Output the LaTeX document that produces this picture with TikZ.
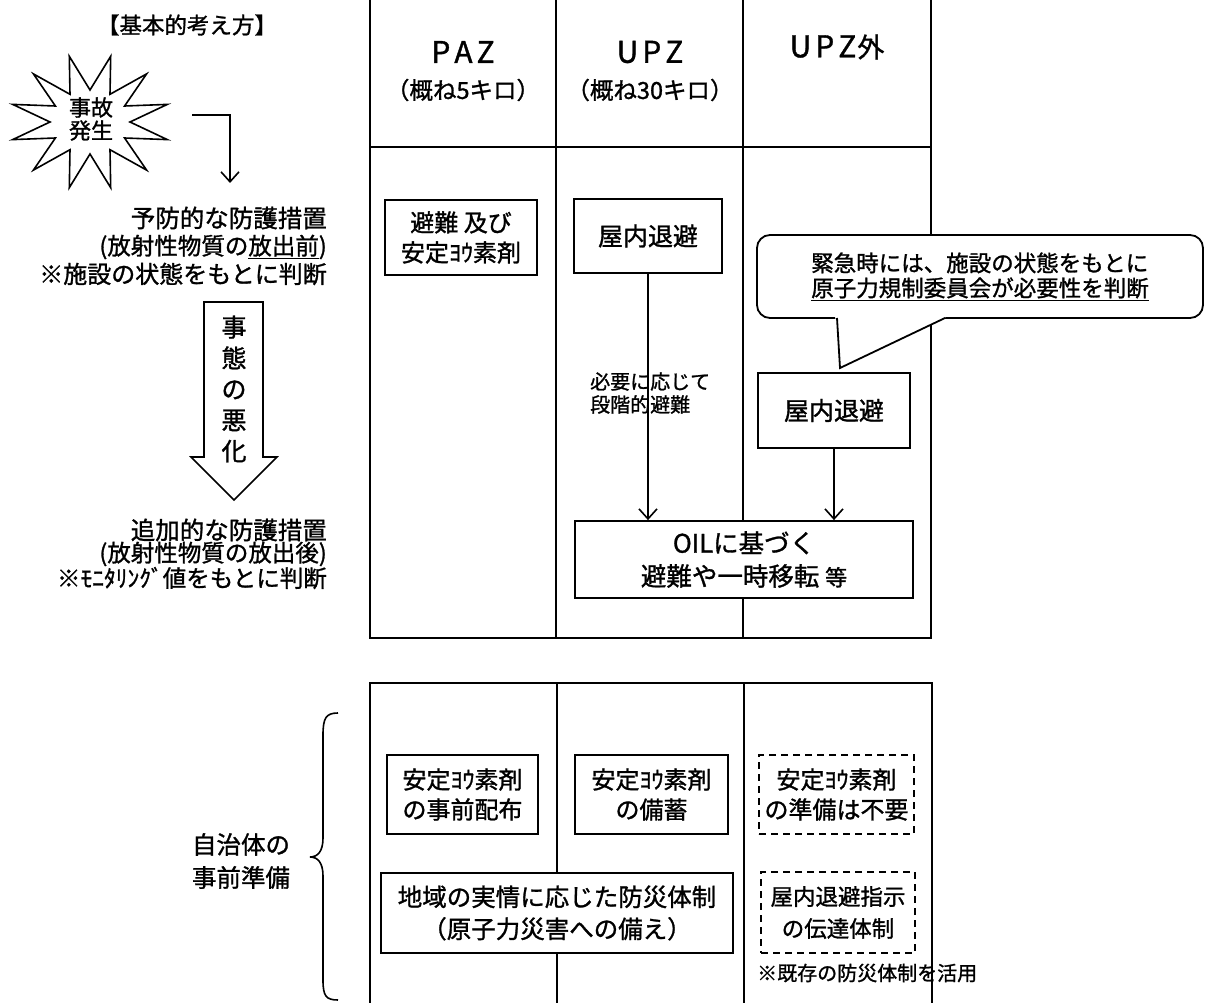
\documentclass[tikz,border=0pt]{standalone}
\usepackage{fontspec}
\setmainfont{Noto Sans CJK JP}[FakeBold=1.2]
\usetikzlibrary{arrows.meta,calc}
\newcommand{\fs}[2]{\fontsize{#1}{#2}\selectfont}
\newcommand{\hdr}[1]{\fs{30}{32}#1}
\begin{document}
\begin{tikzpicture}[x=1pt,y=-1pt,
  tline/.style={line width=2pt},
  box/.style={draw,line width=1.8pt,fill=white,align=center,inner sep=0pt,font=\fs{24}{30}},
  dbox/.style={box,dash pattern=on 7pt off 5pt},
  arr/.style={line width=1.6pt,-{Straight Barb[length=10pt,width=18pt,line width=1.6pt]}},
  txt/.style={inner sep=0pt,align=center}
]
\useasboundingbox (0,0) rectangle (1208,1003);

% ---------- upper table ----------
\draw[tline] (370,-5) -- (370,638) -- (931,638) -- (931,-5);
\draw[tline] (370,147) -- (931,147);
\draw[tline] (556,-5) -- (556,638);
\draw[tline] (743,-5) -- (743,638);

\node[txt] (hpaz) at (463,52) {\hdr{P\hspace{4pt}A\hspace{4pt}Z}};
\node[txt,font=\fs{23.5}{28}] (hpazk) at (463,90) {（概ね5キロ）};
\node[txt] (hupz) at (650,52) {\hdr{U\hspace{4pt}P\hspace{4pt}Z}};
\node[txt,font=\fs{23.5}{28}] (hupzk) at (650,90) {（概ね30キロ）};
\node[txt] (hout) at (837,47) {\hdr{U\hspace{4pt}P\hspace{4pt}Z\hspace{1pt}{\fs{27}{32}外}}};

\node[box,minimum width=152pt,minimum height=75pt] (paz) at (461,237.5) {避難 及び\\安定ﾖｳ素剤};
\node[box,minimum width=148pt,minimum height=74pt,font=\fs{25}{30}] (upzin) at (648,236) {屋内退避};
\node[box,minimum width=152pt,minimum height=75pt,font=\fs{25}{30}] (outin) at (834,410.5) {屋内退避};
\node[box,minimum width=338pt,minimum height=77pt,font=\fs{25.5}{33}] (oil) at (744,559.5) {OILに基づく\\避難や一時移転 {\fs{22}{33}等}};

\draw[arr] (upzin.south) -- (upzin.south |- oil.north);
\draw[arr] (outin.south) -- (outin.south |- oil.north);
\node[txt,align=left,anchor=west,font=\fs{20}{23}] (lbl) at (590,393) {必要に応じて\\段階的避難};

% callout
\node[draw,line width=1.8pt,fill=white,rounded corners=13pt,minimum width=446pt,minimum height=83pt,align=left,font=\fs{22.5}{25},inner sep=0pt] (call) at (980,276.5) {緊急時には、施設の状態をもとに\\\underline{原子力規制委員会が必要性を判断}};
\coordinate (pl) at (837,318);
\coordinate (ptip) at (840,368);
\coordinate (pr) at (945,318);
\fill[white] (835,315) -- (ptip) -- (950,315) -- cycle;
\draw[line width=1.8pt] (pl) -- (ptip) -- (pr);

% ---------- left column ----------
\node[txt,font=\fs{22.5}{27}] (kihon) at (187,25) {【基本的考え方】};
\draw[line width=1.6pt,fill=white]
 (12.7,104.4) -- (55.4,106) -- (33.4,73.9) -- (70,94.3) -- (69.3,56.3) -- (90,90) --
 (110.7,56.3) -- (110,94.3) -- (146.6,73.9) -- (124.6,106) -- (167.3,104.4) -- (130,122) --
 (167.3,139.6) -- (124.6,138) -- (146.6,170.1) -- (110,149.7) -- (110.7,187.7) -- (90,154) --
 (69.3,187.7) -- (70,149.7) -- (33.4,170.1) -- (55.4,138) -- (12.7,139.6) -- (50,122) -- cycle;
\node[txt,font=\fs{22}{23}] (burst) at (91,119) {事故\\発生};
\coordinate (ba1) at (192,115);
\coordinate (ba2) at (230,183);
\draw[arr] (ba1) -| (ba2);

\node[txt,anchor=east,font=\fs{24.5}{28}] (yobo) at (327,218) {予防的な防護措置};
\node[txt,anchor=east,font=\fs{23.5}{28}] (yobo2) at (327,247) {(放射性物質の\underline{放出前})};
\node[txt,anchor=east,font=\fs{24}{28}] (yobo3) at (327,274) {※施設の状態をもとに判断};

\draw[line width=1.6pt] (204,302) -- (263,302) -- (263,457) -- (277,457) -- (234,500) -- (191,457) -- (204,457) -- cycle;
\node[txt,font=\fs{25}{31}] (akka) at (234,389) {事\\態\\の\\悪\\化};

\node[txt,anchor=east,font=\fs{24.5}{28}] (tsuika) at (327,530) {追加的な防護措置};
\node[txt,anchor=east,font=\fs{23.5}{28}] (tsuika2) at (327,554) {(放射性物質の放出後)};
\node[txt,anchor=east,font=\fs{23.5}{28}] (tsuika3) at (327,578) {※ﾓﾆﾀﾘﾝｸﾞ値をもとに判断};

% ---------- lower table ----------
\draw[tline] (370,1010) -- (370,683) -- (932,683) -- (932,1010);
\draw[tline] (557,683) -- (557,1010);
\draw[tline] (744,683) -- (744,1010);

\node[box,minimum width=151pt,minimum height=79pt] (b1) at (462.5,794.5) {安定ﾖｳ素剤\\の事前配布};
\node[box,minimum width=153pt,minimum height=79pt] (b2) at (651.5,794.5) {安定ﾖｳ素剤\\の備蓄};
\node[dbox,minimum width=155pt,minimum height=79pt] (b3) at (836.5,794.5) {安定ﾖｳ素剤\\の準備は不要};
\node[box,minimum width=352pt,minimum height=80pt,font=\fs{24.5}{32}] (b4) at (557,913) {地域の実情に応じた防災体制\\（原子力災害への備え）};
\node[dbox,minimum width=154pt,minimum height=81pt,font=\fs{22.5}{32}] (b5) at (838,912.5) {屋内退避指示\\の伝達体制};
\node[txt,anchor=west,font=\fs{20}{25}] (note) at (757,973) {※既存の防災体制を活用};

\node[txt,font=\fs{24.5}{33}] (jichi) at (241,861) {自治体の\\事前準備};
\draw[line width=1.6pt] (338,713) .. controls (326,713) and (323,718) .. (323,735) -- (323,838) .. controls (323,851) and (318,857) .. (310,857) .. controls (318,857) and (323,863) .. (323,876) -- (323,980) .. controls (323,996) and (326,1000) .. (338,1000);
\end{tikzpicture}
\end{document}
